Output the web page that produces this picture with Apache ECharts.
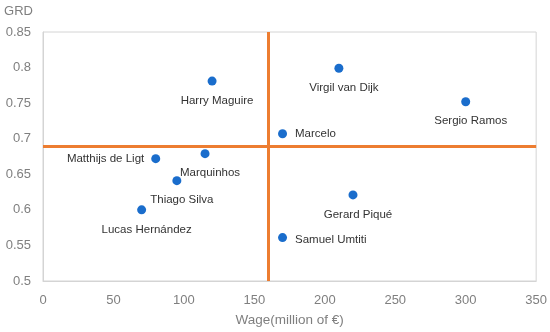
<!DOCTYPE html>
<html><head><meta charset="utf-8">
<script src="https://cdn.jsdelivr.net/npm/echarts@6/dist/echarts.min.js"></script>
<style>html,body{margin:0;padding:0;background:#fff}#c{width:550px;height:332px}</style>
</head><body><div id="c"></div>
<script>
const players = ['Harry Maguire','Virgil van Dijk','Sergio Ramos','Marcelo','Matthijs de Ligt','Marquinhos','Thiago Silva','Lucas Hernández','Gerard Piqué','Samuel Umtiti'];
const wages = [120, 210, 300, 170, 80, 115, 95, 70, 220, 170];
const grd = [0.781, 0.799, 0.752, 0.707, 0.672, 0.679, 0.641, 0.600, 0.621, 0.561];
const wageThreshold = 160;
const grdThreshold = 0.692;
const xTicks = {min: 0, max: 350, step: 50};
const yTicks = {min: 0.5, max: 0.85, step: 0.05};

const labelStyle = {
  'Marcelo': {position: 'right', distance: 8, offset: [0, 0]},
  'Samuel Umtiti': {position: 'right', distance: 8, offset: [0, 2]},
  'Matthijs de Ligt': {position: 'left', distance: 7, offset: [0, 0]}
};
const defaultLabel = {position: 'bottom', distance: 9, offset: [5, 0]};

const data = players.map((p, i) => {
  const ls = labelStyle[p] || defaultLabel;
  return {name: p, value: [wages[i], grd[i]], label: {position: ls.position, distance: ls.distance, offset: ls.offset}};
});

const chart = echarts.init(document.getElementById('c'));
const gray = '#7f7f7f';
chart.setOption({
  animation: false,
  textStyle: {fontFamily: 'Liberation Sans'},
  grid: {left: 43, right: 13, top: 32, bottom: 49, show: true, borderColor: '#d4d4d4', borderWidth: 1},
  xAxis: {
    type: 'value', min: xTicks.min, max: xTicks.max, interval: xTicks.step,
    name: 'Wage(million of €)', nameLocation: 'middle', nameGap: 39,
    nameTextStyle: {color: gray, fontSize: 13.5, verticalAlign: 'middle'},
    axisLine: {show: true, lineStyle: {color: '#d4d4d4'}},
    axisTick: {show: false}, splitLine: {show: false},
    axisLabel: {color: gray, fontSize: 13, margin: 13}
  },
  yAxis: {
    type: 'value', min: yTicks.min, max: yTicks.max, interval: yTicks.step,
    name: 'GRD', nameLocation: 'end', nameGap: 21,
    nameTextStyle: {color: gray, fontSize: 13, align: 'right', verticalAlign: 'middle', padding: [0, 10, 0, 0]},
    axisLine: {show: true, lineStyle: {color: '#d4d4d4'}},
    axisTick: {show: false}, splitLine: {show: false},
    axisLabel: {color: gray, fontSize: 13, margin: 12, formatter: v => String(+v.toFixed(2))}
  },
  series: [{
    type: 'scatter', symbolSize: 9,
    itemStyle: {color: '#1a6dcc', opacity: 1},
    label: {show: true, formatter: '{b}', color: '#333333', fontSize: 11.5},
    data: data,
    markLine: {
      silent: true, symbol: 'none', label: {show: false},
      lineStyle: {color: '#ed7d31', width: 3, type: 'solid'},
      data: [{xAxis: wageThreshold}, {yAxis: grdThreshold}]
    }
  }]
});
</script></body></html>
